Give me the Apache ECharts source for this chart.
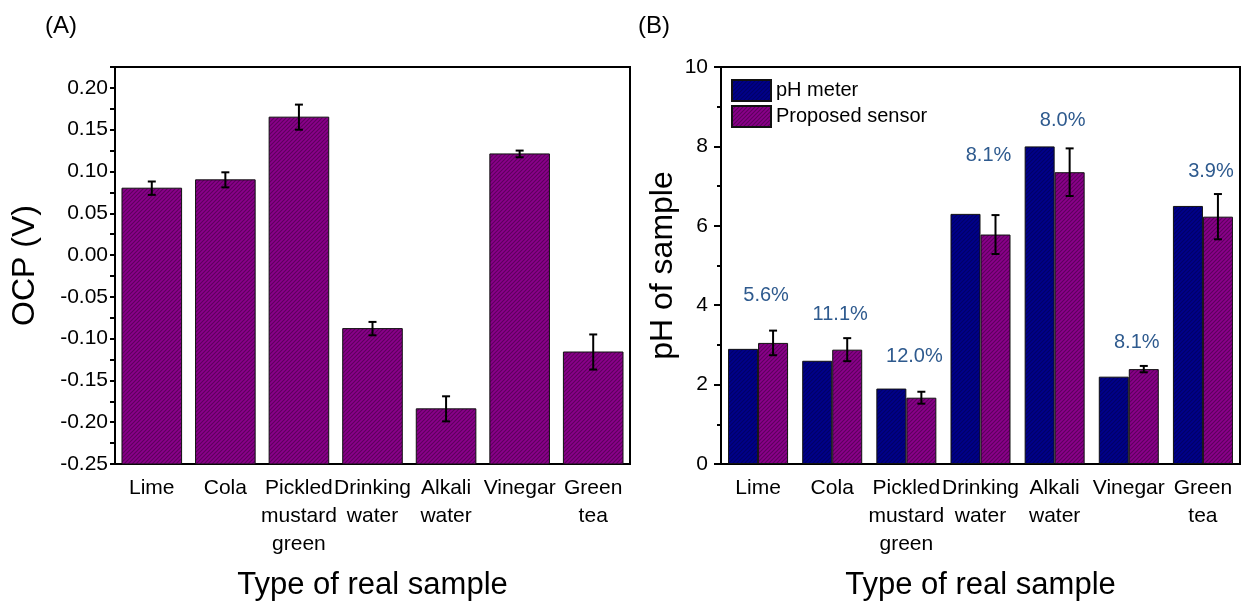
<!DOCTYPE html>
<html>
<head>
<meta charset="utf-8">
<script src="https://cdn.jsdelivr.net/npm/echarts@6/dist/echarts.min.js"></script>
<style>
html,body{margin:0;padding:0;background:#fff;}
#c{width:1254px;height:606px;}
</style>
</head>
<body>
<div id="c"></div>
<script>
// ---------- data ----------
const categories = ['Lime', 'Cola', 'Pickled\nmustard\ngreen', 'Drinking\nwater', 'Alkali\nwater', 'Vinegar', 'Green\ntea'];
// Panel A: OCP (V)
const ocpValues = [0.080, 0.090, 0.165, -0.088, -0.184, 0.121, -0.116];
const ocpErrors = [0.008, 0.009, 0.015, 0.008, 0.015, 0.004, 0.021];
// Panel B: pH
const phMeter = [2.9, 2.6, 1.9, 6.3, 8.0, 2.2, 6.5];
const phSensor = [3.05, 2.88, 1.67, 5.78, 7.35, 2.39, 6.23];
const phSensorErrors = [0.31, 0.29, 0.15, 0.49, 0.60, 0.08, 0.57];
const rsdLabels = ['5.6%', '11.1%', '12.0%', '8.1%', '8.0%', '8.1%', '3.9%'];
const rsdLabelHeights = [4.25, 3.77, 2.72, 7.78, 8.65, 3.07, 7.36];
const ocpTicks = { min: -0.25, max: 0.225, step: 0.025 };
const phTicks = { min: 0, max: 10, step: 2 };

// ---------- patterns ----------
function hatch(base, line, size) {
  const cv = document.createElement('canvas');
  cv.width = size; cv.height = size;
  const g = cv.getContext('2d');
  g.fillStyle = base; g.fillRect(0, 0, size, size);
  g.strokeStyle = line; g.lineWidth = 1.1;
  g.beginPath();
  g.moveTo(-1, size + 1); g.lineTo(size + 1, -1);
  g.moveTo(-1, 1); g.lineTo(1, -1);
  g.moveTo(size - 1, size + 1); g.lineTo(size + 1, size - 1);
  g.stroke();
  return { image: cv, repeat: 'repeat' };
}
const purplePat = hatch('#8a008a', '#5c005c', 4);
const bluePat = hatch('#00008a', '#000066', 4);

const FONT = 'Liberation Sans, Arial, sans-serif';
const chart = echarts.init(document.getElementById('c'), null, { renderer: 'canvas' });

const catAxisBase = {
  type: 'category',
  data: categories,
  axisLine: { onZero: false, lineStyle: { color: '#000', width: 2 } },
  axisTick: { alignWithLabel: true, inside: false, length: 7, lineStyle: { color: '#000', width: 2 } },
  axisLabel: { color: '#000', fontSize: 21, fontFamily: FONT, lineHeight: 28, margin: 10, interval: 0 },
  name: 'Type of real sample',
  nameLocation: 'middle',
  nameGap: 106,
  nameTextStyle: { color: '#000', fontSize: 31, fontFamily: FONT },
  splitLine: { show: false }
};

const option = {
  animation: false,
  backgroundColor: '#fff',
  textStyle: { fontFamily: FONT },
  title: [
    { text: '(A)', left: 40, top: 9, textStyle: { fontSize: 24, fontWeight: 'normal', color: '#000', fontFamily: FONT } },
    { text: '(B)', left: 633, top: 9, textStyle: { fontSize: 24, fontWeight: 'normal', color: '#000', fontFamily: FONT } }
  ],
  legend: {
    left: 731, top: 79, orient: 'vertical', padding: 0,
    itemWidth: 39, itemHeight: 21, itemGap: 3,
    data: ['pH meter', 'Proposed sensor'],
    textStyle: { fontSize: 20, color: '#000', fontFamily: FONT },
    icon: 'rect'
  },
  grid: [
    { left: 115, top: 67, width: 515, height: 400, show: true, borderColor: '#000', borderWidth: 2, backgroundColor: 'transparent' },
    { left: 721, top: 67, width: 519, height: 401, show: true, borderColor: '#000', borderWidth: 2, backgroundColor: 'transparent' }
  ],
  xAxis: [
    Object.assign({}, catAxisBase, { gridIndex: 0 }),
    Object.assign({}, catAxisBase, { gridIndex: 1 })
  ],
  yAxis: [
    {
      type: 'value', gridIndex: 0,
      min: ocpTicks.min, max: ocpTicks.max, interval: ocpTicks.step,
      axisLine: { show: true, lineStyle: { color: '#000', width: 2 } },
      axisTick: { show: true, length: 5, lineStyle: { color: '#000', width: 2 } },
      axisLabel: {
        color: '#000', fontSize: 21, fontFamily: FONT, margin: 7,
        formatter: function (v) {
          const k = Math.round(v / 0.05);
          return Math.abs(k * 0.05 - v) < 1e-6 && v < 0.21 ? (k * 0.05).toFixed(2) : '';
        }
      },
      splitLine: { show: false },
      name: 'OCP (V)', nameLocation: 'middle', nameGap: 74,
      nameTextStyle: { color: '#000', fontSize: 32, fontFamily: FONT }
    },
    {
      type: 'value', gridIndex: 1,
      min: phTicks.min, max: phTicks.max, interval: phTicks.step,
      axisLine: { show: true, lineStyle: { color: '#000', width: 2 } },
      axisTick: { show: true, length: 7, lineStyle: { color: '#000', width: 2 } },
      minorTick: { show: true, splitNumber: 2, length: 4, lineStyle: { color: '#000', width: 2 } },
      axisLabel: { color: '#000', fontSize: 21, fontFamily: FONT, margin: 13 },
      splitLine: { show: false },
      minorSplitLine: { show: false },
      name: 'pH of sample', nameLocation: 'middle', nameGap: 42,
      nameTextStyle: { color: '#000', fontSize: 32, fontFamily: FONT }
    }
  ],
  series: [
    // Panel A bars drawn from the axis bottom
    {
      type: 'custom', name: 'OCP', xAxisIndex: 0, yAxisIndex: 0,
      data: ocpValues.map((v, i) => [i, v]),
      renderItem: function (params, api) {
        const i = api.value(0), v = api.value(1);
        const top = api.coord([i, v]);
        const bot = api.coord([i, ocpTicks.min]);
        const w = api.size([1, 0])[0] * 0.81;
        return {
          type: 'rect',
          shape: { x: top[0] - w / 2, y: top[1], width: w, height: bot[1] - top[1] },
          style: { fill: purplePat, stroke: '#111', lineWidth: 1 }
        };
      },
      z: 2
    },
    // Panel A error bars
    {
      type: 'custom', name: 'OCP err', xAxisIndex: 0, yAxisIndex: 0,
      data: ocpValues.map((v, i) => [i, v - ocpErrors[i], v + ocpErrors[i]]),
      renderItem: function (params, api) {
        const i = api.value(0);
        const lo = api.coord([i, api.value(1)]);
        const hi = api.coord([i, api.value(2)]);
        const c = 4;
        const st = { stroke: '#000', lineWidth: 2 };
        return {
          type: 'group', children: [
            { type: 'line', shape: { x1: lo[0], y1: lo[1], x2: hi[0], y2: hi[1] }, style: st },
            { type: 'line', shape: { x1: lo[0] - c, y1: lo[1], x2: lo[0] + c, y2: lo[1] }, style: st },
            { type: 'line', shape: { x1: hi[0] - c, y1: hi[1], x2: hi[0] + c, y2: hi[1] }, style: st }
          ]
        };
      },
      z: 3
    },
    // Panel B bars
    {
      type: 'bar', name: 'pH meter', xAxisIndex: 1, yAxisIndex: 1,
      data: phMeter, barWidth: 30, barGap: '0%',
      itemStyle: { color: bluePat, borderColor: '#111', borderWidth: 1 }
    },
    {
      type: 'bar', name: 'Proposed sensor', xAxisIndex: 1, yAxisIndex: 1,
      data: phSensor, barWidth: 30, barGap: '0%',
      itemStyle: { color: purplePat, borderColor: '#111', borderWidth: 1 }
    },
    // Panel B error bars on proposed sensor
    {
      type: 'custom', name: 'pH err', xAxisIndex: 1, yAxisIndex: 1,
      data: phSensor.map((v, i) => [i, v - phSensorErrors[i], v + phSensorErrors[i]]),
      renderItem: function (params, api) {
        const i = api.value(0);
        const lo = api.coord([i, api.value(1)]);
        const hi = api.coord([i, api.value(2)]);
        const dx = 15, c = 4;
        const st = { stroke: '#000', lineWidth: 2 };
        return {
          type: 'group', children: [
            { type: 'line', shape: { x1: lo[0] + dx, y1: lo[1], x2: hi[0] + dx, y2: hi[1] }, style: st },
            { type: 'line', shape: { x1: lo[0] + dx - c, y1: lo[1], x2: lo[0] + dx + c, y2: lo[1] }, style: st },
            { type: 'line', shape: { x1: hi[0] + dx - c, y1: hi[1], x2: hi[0] + dx + c, y2: hi[1] }, style: st }
          ]
        };
      },
      z: 3
    },
    // Panel B RSD labels
    {
      type: 'custom', name: 'RSD', xAxisIndex: 1, yAxisIndex: 1,
      data: rsdLabelHeights.map((h, i) => [i, h]),
      renderItem: function (params, api) {
        const p = api.coord([api.value(0), api.value(1)]);
        return {
          type: 'text',
          x: p[0] + 8, y: p[1],
          style: {
            text: rsdLabels[params.dataIndex], fill: '#2e5a8e',
            font: '20px ' + FONT, textAlign: 'center', textVerticalAlign: 'middle'
          }
        };
      },
      z: 4
    }
  ]
};
chart.setOption(option);
</script>
</body>
</html>
